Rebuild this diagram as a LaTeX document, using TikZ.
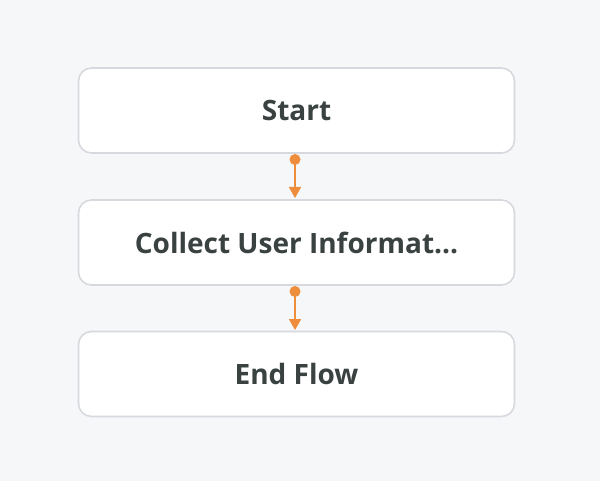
\documentclass[tikz,border=0pt]{standalone}
\usepackage{fontspec}
\setmainfont{Open Sans}
\usetikzlibrary{arrows.meta}
\definecolor{bg}{HTML}{F6F7F9}
\definecolor{boxline}{HTML}{D8D9DE}
\definecolor{txt}{HTML}{3A4241}
\definecolor{conn}{HTML}{EE8E3C}
\tikzset{
  flowbox/.style={draw=boxline, line width=1.6pt, fill=white, rounded corners=13pt,
    minimum width=436pt, minimum height=85pt, inner sep=0pt, text=txt,
    font=\fontsize{28}{32}\selectfont\bfseries},
  conline/.style={draw=conn, line width=1.8pt, -{Triangle[length=11pt,width=12pt]}},
  condot/.style={circle, fill=conn, inner sep=0pt, minimum size=11pt}
}
\begin{document}
\begin{tikzpicture}[x=1pt,y=-1pt]
\fill[bg] (0,0) rectangle (600,481);
\useasboundingbox (0,0) rectangle (600,481);
\node[flowbox] (start) at (296.5,110.5) {Start};
\node[flowbox] (collect) at (296.5,242.5) {Collect User Informat...};
\node[flowbox] (endf) at (296.5,374) {End Flow};
\node[condot] (d1) at (295,159.5) {};
\node[condot] (d2) at (295,291.5) {};
\draw[conline] (d1.center) -- (295,198);
\draw[conline] (d2.center) -- (295,330);
\end{tikzpicture}
\end{document}
